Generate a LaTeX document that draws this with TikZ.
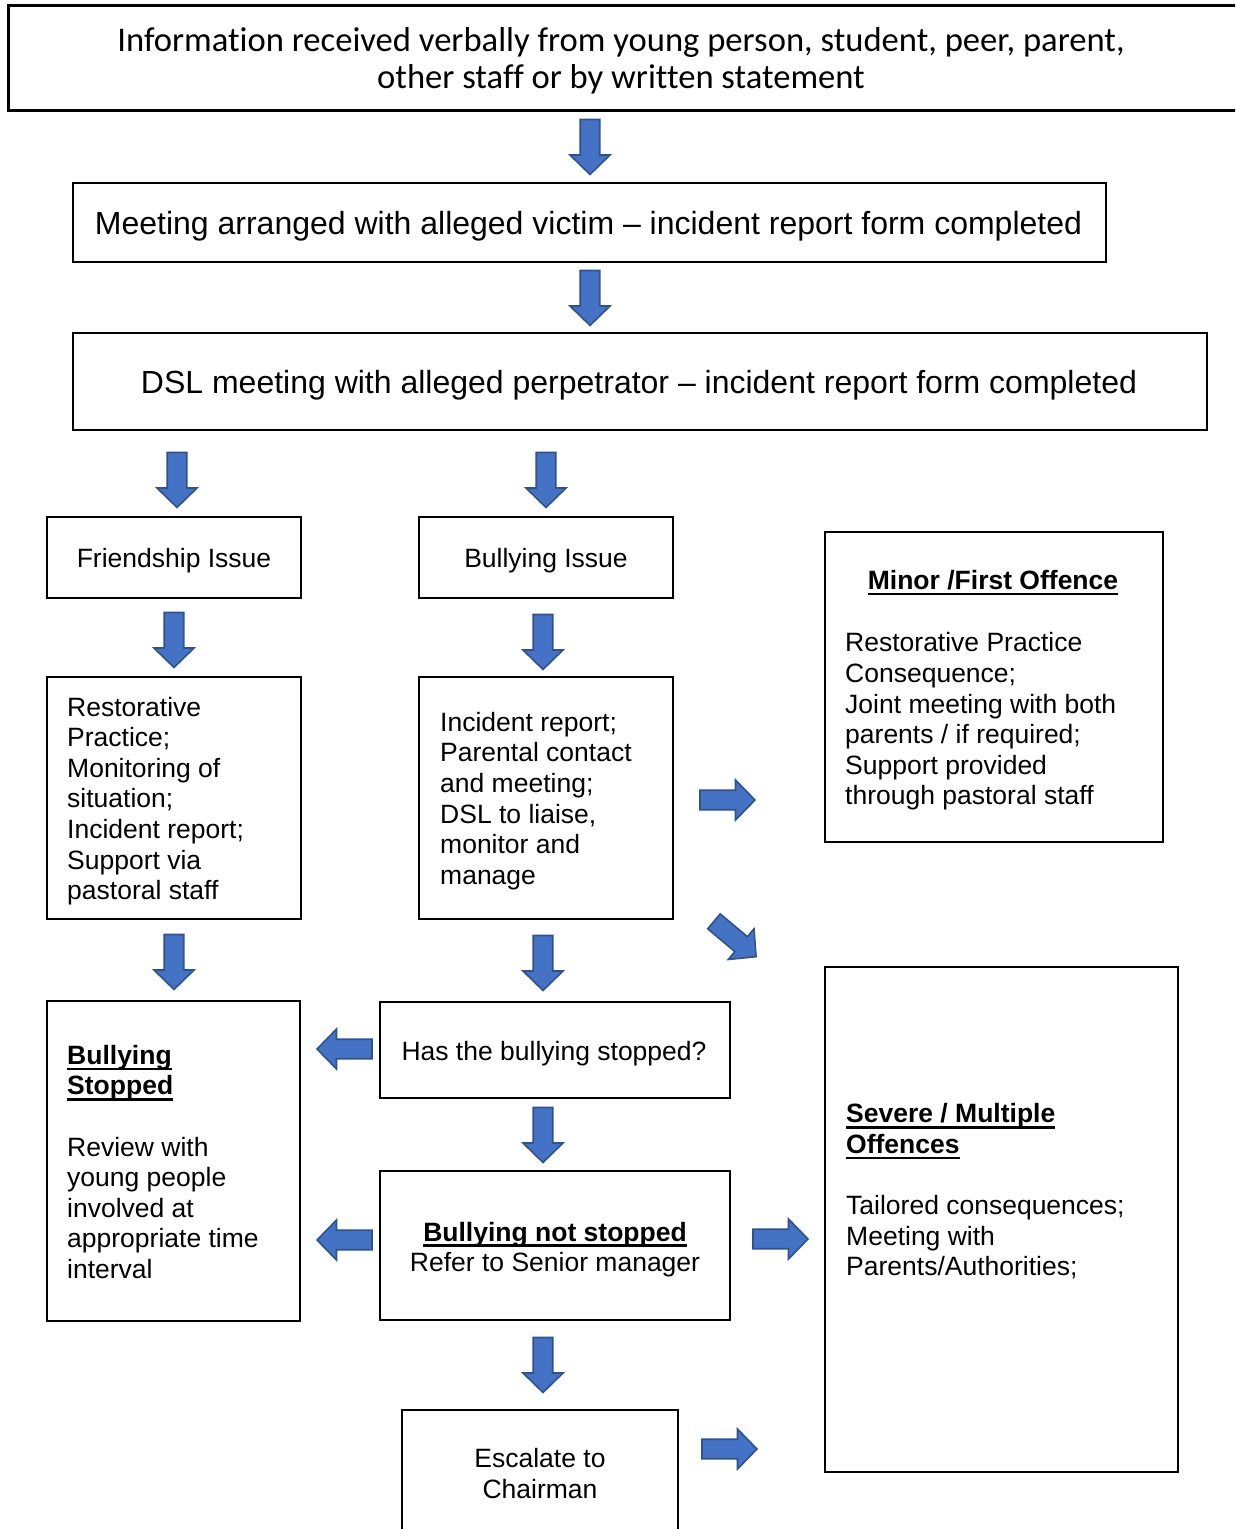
\documentclass[tikz,border=0pt]{standalone}
\usepackage{fontspec}
\setmainfont{Liberation Sans}
\newfontfamily\calfont[Ligatures=NoCommon]{Carlito}
\newsavebox\myulbox
\newcommand\myul[1]{\sbox\myulbox{#1}\rlap{\rule[-5.7pt]{\wd\myulbox}{2.3pt}}\usebox\myulbox}
\definecolor{arrowfill}{HTML}{4472C4}
\definecolor{arrowline}{HTML}{2F528F}
\tikzset{
  box/.style={draw=black, line width=1.4pt, inner sep=0pt, rectangle},
  body/.style={inner sep=0pt, font=\fontsize{26.5}{30.6}\selectfont, align=left},
  one/.style={inner sep=0pt, font=\fontsize{26.5}{30.6}\selectfont},
  big/.style={inner sep=0pt, font=\fontsize{32}{36}\selectfont},
  hd/.style={inner sep=0pt, font=\fontsize{26.5}{30.6}\selectfont\bfseries},
  barrow/.pic={\path[fill=arrowfill, draw=arrowline, line width=1.6pt, line join=miter]
    (-27.5,-9.75) -- (8,-9.75) -- (8,-20) -- (27.5,0) -- (8,20) -- (8,9.75) -- (-27.5,9.75) -- cycle;}
}
\begin{document}
\begin{tikzpicture}[x=1pt,y=-1pt]
\useasboundingbox (0,0) rectangle (1235,1529);
\clip (0,0) rectangle (1235,1529);
\fill[white] (0,0) rectangle (1235,1529);

% boxes
\node[box, line width=2.5pt, minimum width=1241.3pt, minimum height=105pt] (info) at (629.35,58) {};
\node[box, minimum width=1033pt, minimum height=79pt] (meet) at (589.5,222.5) {};
\node[box, minimum width=1134pt, minimum height=97pt] (dsl) at (640,381.5) {};
\node[box, minimum width=254pt, minimum height=81pt] (friend) at (174,557.5) {};
\node[box, minimum width=254pt, minimum height=81pt] (bully) at (546,557.5) {};
\node[box, minimum width=338pt, minimum height=310pt] (minor) at (994,687) {};
\node[box, minimum width=254pt, minimum height=242pt] (restor) at (174,798) {};
\node[box, minimum width=254pt, minimum height=242pt] (incid) at (546,798) {};
\node[box, minimum width=253pt, minimum height=320pt] (stopped) at (173.5,1161) {};
\node[box, minimum width=350pt, minimum height=96pt] (has) at (555,1050) {};
\node[box, minimum width=350pt, minimum height=149pt] (notstop) at (555,1245.5) {};
\node[box, minimum width=353pt, minimum height=505pt] (severe) at (1001.5,1219.5) {};
\node[box, minimum width=276pt, minimum height=135pt] (escal) at (540,1477.5) {};

% texts
\node[inner sep=0pt, font=\calfont\fontsize{34.6}{37}\selectfont, align=center] (tinfo) at (621,61)
  {Information received verbally from young person, student, peer, parent,\\other staff or by written statement};
\node[big, anchor=base] (tmeet) at (588.5,234.5) {Meeting arranged with alleged victim -- incident report form completed};
\node[big, anchor=base] (tdsl) at (639,393.5) {DSL meeting with alleged perpetrator -- incident report form completed};
\node[one, anchor=base] (tfriend) at (174,567.5) {Friendship Issue};
\node[one, anchor=base] (tbully) at (546,567.5) {Bullying Issue};
\node[hd, anchor=base] (tminorh) at (993,589.5) {\myul{Minor /First Offence}};
\node[body, anchor=west] (tminor) at (845,721.5)
  {Restorative Practice\\Consequence;\\Joint meeting with both\\parents / if required;\\Support provided\\through pastoral staff};
\node[body, anchor=west] (trestor) at (67,801)
  {Restorative\\Practice;\\Monitoring of\\situation;\\Incident report;\\Support via\\pastoral staff};
\node[body, anchor=west] (tincid) at (440,801)
  {Incident report;\\Parental contact\\and meeting;\\DSL to liaise,\\monitor and\\manage};
\node[body, anchor=west] (tstopped) at (67,1162)
  {\myul{\textbf{Bullying}}\\\myul{\textbf{Stopped}}\\[30.6pt]Review with\\young people\\involved at\\appropriate time\\interval};
\node[one, anchor=base] (thas) at (554,1060.5) {Has the bullying stopped?};
\node[body, align=center] (tnotstop) at (555,1249.5)
  {\myul{\textbf{Bullying not stopped}}\\Refer to Senior manager};
\node[body, anchor=west] (tsevere) at (846,1191.5)
  {\myul{\textbf{Severe / Multiple}}\\\myul{\textbf{Offences}}\\[30.6pt]Tailored consequences;\\Meeting with\\Parents/Authorities;};
\node[body, align=center] (tescal) at (540,1473.5) {Escalate to\\Chairman};

% block arrows
\pic[rotate=-90] at (590,147) {barrow};
\pic[rotate=-90] at (590,298) {barrow};
\pic[rotate=-90] at (177,480) {barrow};
\pic[rotate=-90] at (546,480) {barrow};
\pic[rotate=-90] at (174,640) {barrow};
\pic[rotate=-90] at (543,642) {barrow};
\pic at (727.5,800) {barrow};
\pic[rotate=-40] at (735,939) {barrow};
\pic[rotate=-90] at (174,962) {barrow};
\pic[rotate=-90] at (543,963) {barrow};
\pic[rotate=180] at (344.5,1049) {barrow};
\pic[rotate=-90] at (543,1135) {barrow};
\pic[rotate=180] at (344.5,1240) {barrow};
\pic at (780.5,1239) {barrow};
\pic[rotate=-90] at (543,1365) {barrow};
\pic at (729.5,1449) {barrow};
\end{tikzpicture}
\end{document}
